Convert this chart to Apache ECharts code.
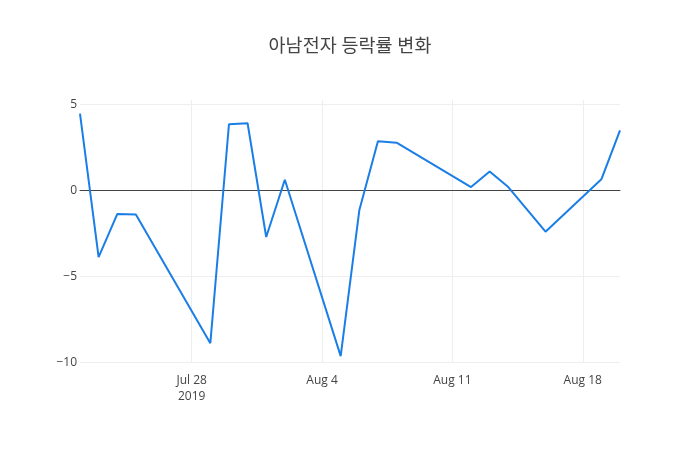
<!DOCTYPE html>
<html lang="ko">
<head>
    <meta charset="UTF-8">
    <title>아남전자 등락률 변화</title>
    <script src="https://cdn.jsdelivr.net/npm/echarts@6/dist/echarts.min.js"></script>
    <style>
        html, body { margin: 0; padding: 0; background: #fff; }
        #main { width: 700px; height: 450px; }
    </style>
</head>
<body>
<div id="main"></div>
<script>
    // 거래일과 등락률(%)
    var dates = ['2019-07-22', '2019-07-23', '2019-07-24', '2019-07-25', '2019-07-29',
        '2019-07-30', '2019-07-31', '2019-08-01', '2019-08-02', '2019-08-05',
        '2019-08-06', '2019-08-07', '2019-08-08', '2019-08-12', '2019-08-13',
        '2019-08-14', '2019-08-16', '2019-08-19', '2019-08-20'];
    var rates = [4.46, -3.88, -1.38, -1.40, -8.88,
        3.84, 3.90, -2.71, 0.62, -9.63,
        -1.16, 2.85, 2.77, 0.19, 1.09,
        0.19, -2.40, 0.64, 3.49];

    // 축 눈금
    var xStart = '2019-07-22';
    var xEnd = '2019-08-20';
    var xTickDates = ['2019-07-28', '2019-08-04', '2019-08-11', '2019-08-18'];
    var xTickLabels = ['Jul 28\n2019', 'Aug 4', 'Aug 11', 'Aug 18'];
    var yTicks = [-10, -5, 0, 5];

    // 날짜 -> 시작일로부터 일수
    function dayNo(s) {
        var p = s.split('-');
        return Math.round((Date.UTC(+p[0], p[1] - 1, +p[2]) - Date.UTC(2019, 6, 22)) / 86400000);
    }

    var xTickValues = xTickDates.map(dayNo);
    var points = dates.map(function (d, i) { return [dayNo(d), rates[i]]; });

    var myChart = echarts.init(document.getElementById('main'));

    var option = {
        backgroundColor: '#fff',
        animation: false,
        title: {
            text: '아남전자 등락률 변화',
            left: 'center',
            top: 32,
            textStyle: {
                fontFamily: '"Open Sans", "Noto Sans CJK KR", sans-serif',
                fontSize: 18.5,
                fontWeight: 'normal',
                color: '#444'
            }
        },
        grid: {
            left: 80,
            right: 80,
            top: 100,
            bottom: 87
        },
        xAxis: {
            type: 'value',
            min: dayNo(xStart),
            max: dayNo(xEnd),
            axisLine: { show: true, onZero: true, lineStyle: { color: '#444', width: 1 } },
            axisTick: { show: false, customValues: xTickValues },
            axisLabel: {
                customValues: xTickValues,
                color: '#444',
                fontSize: 12,
                fontFamily: '"Open Sans", sans-serif',
                lineHeight: 16,
                margin: 10,
                formatter: function (v) {
                    var i = xTickValues.indexOf(v);
                    return i >= 0 ? xTickLabels[i] : '';
                }
            },
            splitLine: { show: true, lineStyle: { color: '#eee', width: 1 } }
        },
        yAxis: {
            type: 'value',
            min: -10.03,
            max: 5.25,
            axisLine: { show: false },
            axisTick: { show: false, customValues: yTicks },
            axisLabel: {
                customValues: yTicks,
                color: '#444',
                fontSize: 12,
                fontFamily: '"Open Sans", sans-serif',
                margin: 3,
                formatter: function (v) {
                    return v < 0 ? '\u2212' + Math.abs(v) : String(v);
                }
            },
            splitLine: { show: true, lineStyle: { color: '#eee', width: 1 } }
        },
        series: [{
            type: 'line',
            data: points,
            showSymbol: false,
            symbol: 'none',
            lineStyle: { color: '#1a7ee6', width: 2 },
            itemStyle: { color: '#1a7ee6' }
        }]
    };

    myChart.setOption(option);
</script>
</body>
</html>
